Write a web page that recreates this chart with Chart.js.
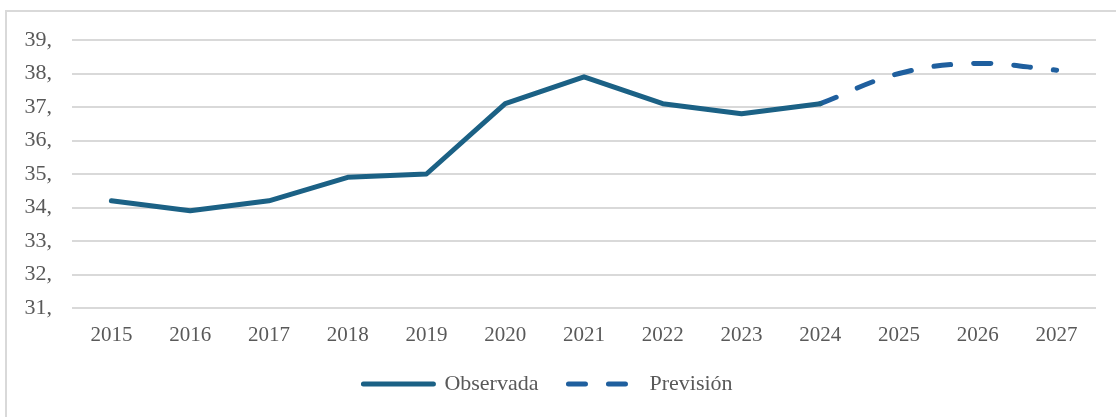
<!DOCTYPE html>
<html>
<head>
<meta charset="utf-8">
<script src="https://cdn.jsdelivr.net/npm/chart.js@4"></script>
<style>
    body { margin: 0; background: #fff; }
    #frame {
        position: absolute; left: 5px; top: 10px; width: 1130px; height: 430px;
        border-left: 2px solid #d9d9d9; border-top: 2px solid #d9d9d9;
    }
    #wrap { position: absolute; left: 0; top: 0; width: 1116px; height: 417px; }
</style>
</head>
<body>
<div id="frame"></div>
<div id="wrap"><canvas id="chart"></canvas></div>
<script>
// Data
const years = ['2015', '2016', '2017', '2018', '2019', '2020', '2021', '2022', '2023', '2024', '2025', '2026', '2027'];
const observada = [34.2, 33.9, 34.2, 34.9, 35.0, 37.1, 37.9, 37.1, 36.8, 37.1, null, null, null];
const prevision = [null, null, null, null, null, null, null, null, null, 37.1, 38.0, 38.3, 38.1];

const textColor = '#595959';
const fontFamily = "'Liberation Serif', 'DejaVu Serif', serif";

const ctx = document.getElementById('chart').getContext('2d');
new Chart(ctx, {
    type: 'line',
    data: {
        labels: years,
        datasets: [{
            label: 'Observada',
            data: observada,
            borderColor: '#1b6185',
            borderWidth: 5,
            borderCapStyle: 'round',
            borderJoinStyle: 'round',
            pointRadius: 0,
            tension: 0
        }, {
            label: 'Previsión',
            data: prevision,
            borderColor: '#1f5f9e',
            borderWidth: 5,
            borderDash: [17, 23],
            borderCapStyle: 'round',
            pointRadius: 0,
            tension: 0.4
        }]
    },
    options: {
        responsive: true,
        maintainAspectRatio: false,
        animation: false,
        layout: { padding: { top: 40, right: 20, left: 0, bottom: 14 } },
        plugins: {
            tooltip: { enabled: false },
            legend: {
                position: 'bottom',
                maxHeight: 60,
                labels: {
                    usePointStyle: true,
                    pointStyle: 'line',
                    pointStyleWidth: 70,
                    color: textColor,
                    padding: 30,
                    font: { family: fontFamily, size: 22 },
                    // point style hides the dataset dash, so copy it back
                    generateLabels: chart => {
                        const items = Chart.defaults.plugins.legend.labels.generateLabels(chart);
                        items.forEach(item => {
                            const ds = chart.data.datasets[item.datasetIndex];
                            item.lineDash = ds.borderDash || [];
                            item.lineCap = 'round';
                            item.lineWidth = 5;
                            item.strokeStyle = ds.borderColor;
                        });
                        return items;
                    }
                }
            }
        },
        scales: {
            x: {
                offset: true,
                afterFit: scale => { scale.height = 35; },
                grid: { display: false, drawTicks: false },
                border: { display: false },
                ticks: { color: textColor, padding: 15, font: { family: fontFamily, size: 21 } }
            },
            y: {
                min: 31,
                max: 39,
                afterFit: scale => { scale.width = 72; },
                grid: { color: '#d9d9d9', lineWidth: 2, drawTicks: false },
                border: { display: false },
                ticks: {
                    stepSize: 1,
                    color: textColor,
                    padding: 20,
                    font: { family: fontFamily, size: 22 },
                    callback: v => v + ','
                }
            }
        }
    }
});
</script>
</body>
</html>
